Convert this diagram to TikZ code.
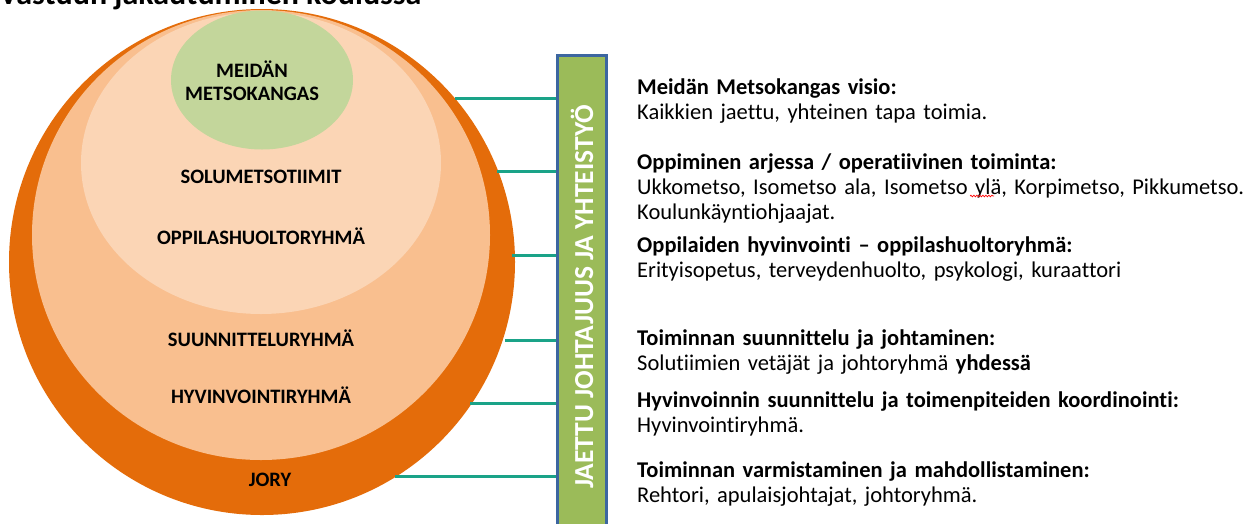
\documentclass[tikz,border=0pt]{standalone}
\usepackage{fontspec}
\setmainfont{Carlito}[Ligatures={NoCommon}]
\usetikzlibrary{shapes.geometric,decorations.pathmorphing}
\definecolor{ringorange}{HTML}{E46C0A}
\definecolor{ringmid}{HTML}{F9BF8F}
\definecolor{ringlight}{HTML}{FBD5B5}
\definecolor{ringgreen}{HTML}{C3D69B}
\definecolor{barfill}{HTML}{9BBB59}
\definecolor{barline}{HTML}{3C66A0}
\definecolor{connteal}{HTML}{1AA388}
\begin{document}
\begin{tikzpicture}[x=1pt,y=-1pt,
  ring/.style={ellipse, inner sep=0pt, draw=none},
  lbl/.style={anchor=base, inner sep=0pt, font=\fontsize{20.5}{24}\selectfont\bfseries},
  conn/.style={draw=connteal, line width=3pt},
  desc/.style={anchor=base west, inner sep=0pt, text width=610pt, align=left,
               font=\fontsize{22.5}{25}\selectfont}]
\useasboundingbox (0,0) rectangle (1247,523);
\clip (0,0) rectangle (1247,523);
% title (cut off at the top, as in the reference)
\node[anchor=base west, inner sep=0pt, font=\fontsize{32}{36}\selectfont\bfseries] (title) at (-1,4.5) {Vastuun jakautuminen koulussa};
% rings
\node[ring, fill=ringorange, minimum width=506pt, minimum height=506pt] (outer) at (262,262) {};
\node[ring, fill=ringmid, minimum width=458pt, minimum height=450pt] (mid) at (261,235) {};
\node[ring, fill=ringlight, minimum width=360pt, minimum height=302pt] (light) at (261,163) {};
\node[ring, fill=ringgreen, minimum width=182pt, minimum height=139pt] (green) at (262,80) {};
% ring labels
\node[lbl] (l1) at (252,77) {MEIDÄN};
\node[lbl] (l2) at (252,100) {METSOKANGAS};
\node[lbl] (l3) at (261,183.5) {SOLUMETSOTIIMIT};
\node[lbl] (l4) at (261,244.5) {OPPILASHUOLTORYHMÄ};
\node[lbl] (l5) at (261,346.5) {SUUNNITTELURYHMÄ};
\node[lbl] (l6) at (261,403.5) {HYVINVOINTIRYHMÄ};
\node[lbl] (l7) at (270,486.5) {JORY};
% bar
\node[draw=barline, fill=barfill, line width=3pt, minimum width=49pt, minimum height=490pt, inner sep=0pt] (bar) at (582,300) {};
\node[rotate=90, text=white, inner sep=0pt, font=\fontsize{27.5}{30}\selectfont\bfseries] (bartext) at (582,297) {JAETTU JOHTAJUUS JA YHTEISTYÖ};
% connectors
\coordinate (e1) at (455,98);
\coordinate (e2) at (497,171);
\coordinate (e3) at (512,255);
\coordinate (e4) at (505,340);
\coordinate (e5) at (470,403);
\coordinate (e6) at (395,476);
\foreach \e in {e1,e2,e3,e4,e5,e6}{
  \draw[conn] (\e) -- (\e -| bar.west);
}
% descriptions
\node[desc] (d1) at (637,94) {\textbf{Meidän Metsokangas visio:}\\Kaikkien jaettu, yhteinen tapa toimia.};
\node[desc] (d2) at (637,169) {\textbf{Oppiminen arjessa / operatiivinen toiminta:}\\Ukkometso, Isometso ala, Isometso ylä, Korpimetso, Pikkumetso.\\Koulunkäyntiohjaajat.};
\node[desc] (d3) at (637,252) {\textbf{Oppilaiden hyvinvointi – oppilashuoltoryhmä:}\\Erityisopetus, terveydenhuolto, psykologi, kuraattori};
\node[desc] (d4) at (637,345) {\textbf{Toiminnan suunnittelu ja johtaminen:}\\Solutiimien vetäjät ja johtoryhmä \textbf{yhdessä}};
\node[desc] (d5) at (637,407) {\textbf{Hyvinvoinnin suunnittelu ja toimenpiteiden koordinointi:}\\Hyvinvointiryhmä.};
\node[desc] (d6) at (637,477) {\textbf{Toiminnan varmistaminen ja mahdollistaminen:}\\Rehtori, apulaisjohtajat, johtoryhmä.};
% spell-check mark under "ylä"
\coordinate (s1) at (970,196);
\coordinate (s2) at (994,196);
\draw[red, line width=0.7pt, decorate, decoration={snake, amplitude=0.8pt, segment length=3pt}] (s1) -- (s2);
\end{tikzpicture}
\end{document}
